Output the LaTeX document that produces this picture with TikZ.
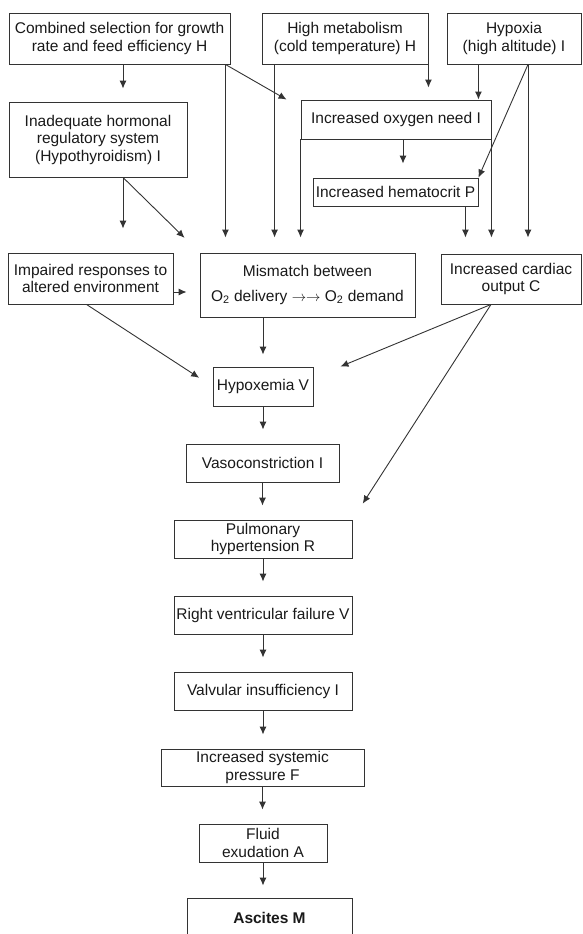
\documentclass[tikz,border=0pt]{standalone}
\usepackage{fontspec}
\setmainfont{Liberation Sans}
\usetikzlibrary{arrows.meta}

\begin{document}
\begin{tikzpicture}[x=1pt,y=-1pt,
  box/.style={draw=black!80,line width=0.9pt,inner sep=0pt,align=center,
    font=\fontsize{15.5}{17.5}\selectfont,text=black!90},
  arr/.style={draw=black!80,line width=0.9pt,-{Latex[length=8pt,width=7pt]},shorten >=14pt},
  ]
\useasboundingbox (0,0) rectangle (582,934);

% causes
\node[box,minimum width=221,minimum height=51] (comb) at (119.5,38.5) {Combined selection for growth\\rate and feed efficiency H};
\node[box,minimum width=166,minimum height=51] (metab) at (345,38.5) {High metabolism\\(cold temperature) H};
\node[box,minimum width=134,minimum height=51] (hypox) at (514,38.5) {Hypoxia\\(high altitude) I};
\node[box,minimum width=178,minimum height=75] (horm) at (98,139.5) {Inadequate hormonal\\regulatory system\\(Hypothyroidism) I};
\node[box,minimum width=190,minimum height=39] (oxy) at (396,119.5) {Increased oxygen need I};
\node[box,minimum width=165,minimum height=28] (hemat) at (395.5,192) {Increased hematocrit P};
\node[box,minimum width=165,minimum height=51] (impair) at (90.5,278.5) {Impaired responses to\\altered environment};
\node[box,minimum width=215,minimum height=64] (mism) at (307.5,285) {Mismatch between\\[7pt]O\textsubscript{2} delivery $\rightarrow\rightarrow$ O\textsubscript{2} demand};
\node[box,minimum width=140,minimum height=50] (cardiac) at (511,279) {Increased cardiac\\output C};

% chain
\node[box,minimum width=100,minimum height=39] (hypoxe) at (263,386.5) {Hypoxemia V};
\node[box,minimum width=153,minimum height=38] (vaso) at (262.5,463) {Vasoconstriction I};
\node[box,minimum width=178,minimum height=38] (pulm) at (263,539) {Pulmonary\\hypertension R};
\node[box,minimum width=178,minimum height=38] (rvf) at (263,615) {Right ventricular failure V};
\node[box,minimum width=178,minimum height=38] (valv) at (263,691) {Valvular insufficiency I};
\node[box,minimum width=203,minimum height=37] (sysp) at (262.5,767.5) {Increased systemic\\pressure F};
\node[box,minimum width=128,minimum height=38] (fluid) at (263,843) {Fluid\\exudation A};
\node[box,minimum width=165,minimum height=40] (ascit) at (269.5,918) {\textbf{Ascites M}};

\draw[arr,shorten >=13pt] ([xshift=3.5pt]comb.south) -- ([xshift=3.5pt]comb.south |- horm.north);
\draw[arr,shorten >=24pt] ([xshift=25pt]horm.south) -- ([xshift=25pt]horm.south |- impair.north);
\draw[arr,shorten >=21pt] ([xshift=25pt]horm.south) -- (mism.north west);
\draw[arr,shorten >=15pt] ([xshift=-5pt]comb.south east) -- ([xshift=-5pt]comb.south east |- mism.north);
\draw[arr,shorten >=0pt] ([xshift=-5pt]comb.south east) -- ([xshift=-14pt]oxy.north west);
\draw[arr,shorten >=15pt] ([xshift=13pt]metab.south west) -- ([xshift=13pt]metab.south west |- mism.north);
\draw[arr,shorten >=12pt] (metab.south east) -- (metab.south east |- oxy.north);
\draw[arr,shorten >=0pt] ([xshift=-13pt]oxy.north east |- hypox.south) -- ([xshift=-13pt]oxy.north east);
\draw[arr,shorten >=0pt] ([xshift=14pt]hypox.south) -- (hemat.north east);
\draw[arr,shorten >=16pt] ([xshift=14pt]hypox.south) -- ([xshift=14pt]hypox.south |- cardiac.north);
\draw[arr,shorten >=15pt] (oxy.south west) -- (oxy.south west |- mism.north);
\draw[arr] ([xshift=7pt]oxy.south) -- ([xshift=7pt]oxy.south |- hemat.north);
\draw[arr,shorten >=16pt] ([xshift=-13pt]hemat.south east) -- ([xshift=-13pt]hemat.south east |- cardiac.north);
\draw[arr,shorten >=16pt] (oxy.south east) -- (oxy.south east |- cardiac.north);

\draw[arr,shorten >=13pt] ([yshift=-13.5pt]impair.east) -- ([yshift=-13.5pt]impair.east -| mism.west);
\draw[arr,shorten >=16pt] ([xshift=-4pt]impair.south) -- (hypoxe.west);
\draw[arr,shorten >=0pt] ([xshift=-20pt]cardiac.south) -- ([xshift=27pt]hypoxe.north east);
\draw[arr,shorten >=19pt] ([xshift=-20pt]cardiac.south) -- (pulm.north east);

\draw[arr,shorten >=12pt] (hypoxe.north |- mism.south) -- (hypoxe.north);
\foreach \a/\b in {hypoxe/vaso,vaso/pulm,pulm/rvf,rvf/valv,valv/sysp,sysp/fluid}
  \draw[arr] (\a.south) -- (\a.south |- \b.north);
\draw[arr,shorten >=12pt] (fluid.south) -- (fluid.south |- ascit.north);
\end{tikzpicture}
\end{document}
